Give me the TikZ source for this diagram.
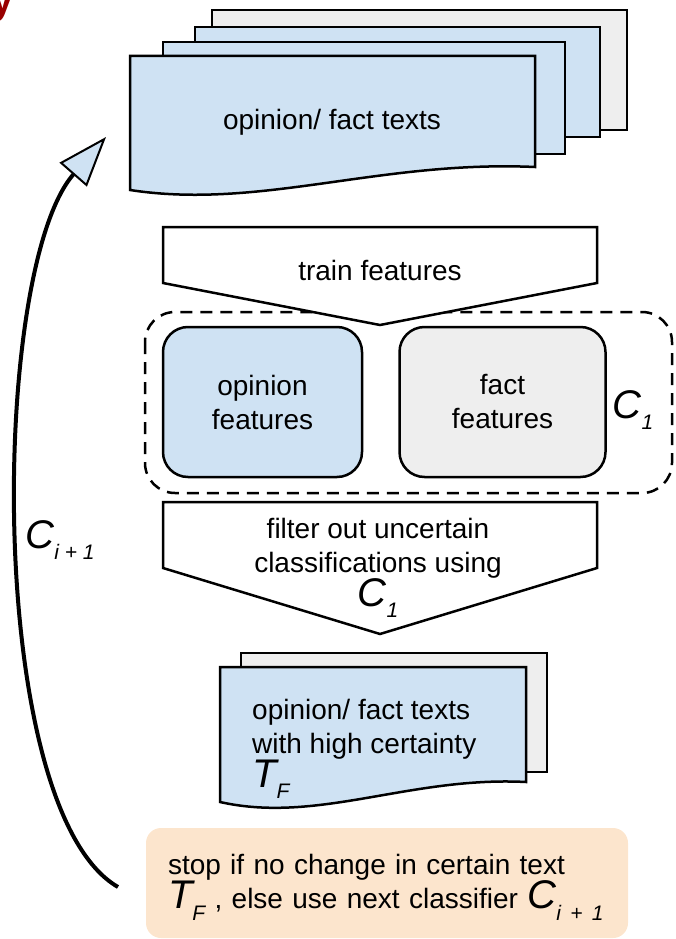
\documentclass[tikz,border=0pt]{standalone}
\usepackage{fontspec}
\setmainfont{Liberation Sans}
\usepackage{xcolor}
\usetikzlibrary{arrows.meta, positioning}

\definecolor{docblue}{HTML}{CFE2F3}
\definecolor{docgray}{HTML}{EEEEEE}
\definecolor{stoppeach}{HTML}{FCE5CD}
\definecolor{headred}{HTML}{990000}

% big italic symbol with a subscript
\newcommand{\symsub}[2]{{\fontsize{40}{40}\selectfont\itshape #1}\raisebox{-0.42em}{\fontsize{21}{21}\selectfont\itshape #2}}

\tikzset{
  paper/.style={draw, line width=2.5pt, fill=docblue},
  paperback/.style={paper, fill=docgray},
  funnel/.style={draw, line width=2.5pt, fill=white},
  featbox/.style={draw, line width=2.5pt, rounded corners=25pt,
                  minimum width=199pt, minimum height=150pt, align=center},
  lbl/.style={align=center, inner sep=0pt}
}

\begin{document}
\begin{tikzpicture}[x=1pt, y=-1pt, font=\fontsize{28}{34}\selectfont]
  \useasboundingbox (0,0) rectangle (676,939);

  % cut-off heading letter
  \node[text=headred, font=\fontsize{40}{40}\selectfont\bfseries, inner sep=0pt, anchor=base] (headletter) at (3,14) {y};

  % stack of input texts
  \draw[paperback] (212,10) rectangle (627,130);
  \draw[paper] (195,27) rectangle (600,137);
  \draw[paper] (163,42) rectangle (565,154);
  \draw[paper] (130,56) -- (535,56) -- (535,167)
        .. controls (380,160) and (260,210) .. (130,190) -- cycle;
  \node[lbl] (toptxt) at (332,122) {opinion/ fact texts};

  % classifier C_1
  \draw[line width=2.5pt, dash pattern=on 12pt off 8pt, rounded corners=30pt]
        (145,312) rectangle (672,493);
  \draw[funnel] (163,227) -- (597,227) -- (597,283) -- (380,325) -- (163,283) -- cycle;
  \node[lbl] (traintxt) at (380,270) {train features};
  \node[featbox, fill=docblue] (opfeat) at (262.5,402) {opinion\\features};
  \node[featbox, fill=docgray, minimum width=206pt, right=35pt of opfeat] (factfeat) {fact\\features};
  \node[lbl] (cone) at (633,410) {\symsub{C}{1}};

  % filtering
  \draw[funnel] (163,502) -- (597,502) -- (597,568) -- (380,634) -- (163,568) -- cycle;
  \node[lbl] (filtertxt) at (378,562) {filter out uncertain\\classifications using\\\smash{\symsub{C}{1}}};

  % certain texts
  \draw[paperback] (241,653) rectangle (547,772);
  \draw[paper] (220,667) -- (526,667) -- (526,782)
        .. controls (410,776) and (318,824) .. (220,802) -- cycle;
  \node[lbl, align=left, anchor=west] (certtxt) at (252,743)
        {opinion/ fact texts\\with high certainty\\\smash{\symsub{T}{F}}};

  % stopping rule
  \node[fill=stoppeach, rounded corners=15pt, text width=438pt, inner xsep=22pt,
        minimum height=110pt, align=left] (stop) at (387,883)
        {stop if no change in certain text\\\smash{\symsub{T}{F}} , else use next classifier \smash{\symsub{C}{i + 1}}};

  % loop back to the input
  \coordinate (looptail) at (118,887);
  \coordinate (loophead) at (106,137);
  \draw[line width=4pt, -{Triangle[length=50pt, width=36pt, fill=docblue, line width=2pt]}]
        (looptail) .. controls (-15,810) and (-10,270) .. (loophead);
  \node[lbl] (cnext) at (60,540) {\symsub{C}{i + 1}};
\end{tikzpicture}
\end{document}
